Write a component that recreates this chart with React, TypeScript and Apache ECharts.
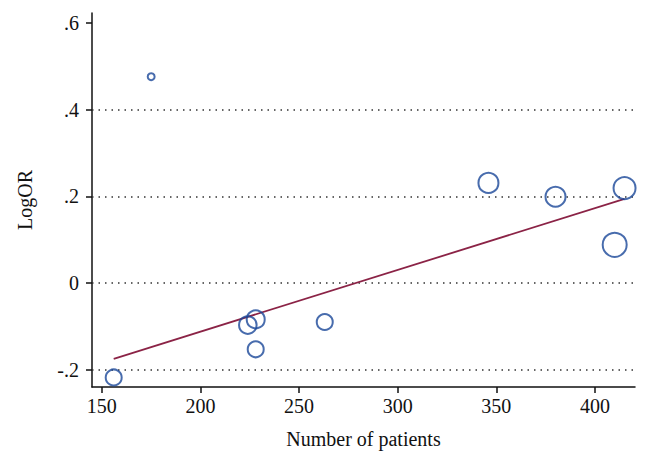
import React, { useEffect, useRef } from "react";
import * as echarts from "echarts";

const patients = [156, 175, 224, 228, 228, 263, 346, 380, 410, 415];
const logOR = [-0.218, 0.476, -0.097, -0.084, -0.153, -0.09, 0.231, 0.199, 0.088, 0.219];
const weights = [64, 12, 77, 81, 64, 64, 100, 100, 144, 121];
const fitX = [156, 415];
const fitY = [-0.175, 0.194];
const xTicks = [150, 200, 250, 300, 350, 400];
const yTicks = [-0.2, 0, 0.2, 0.4, 0.6];
const gridLines = [-0.2, 0, 0.2, 0.4];

const FONT = "Liberation Serif";

function fmtY(v: number): string {
  if (Math.abs(v) < 1e-9) return "0";
  const s = Math.abs(v).toFixed(1).replace(/^0/, "");
  return (v < 0 ? "-" : "") + s;
}

export default function App() {
  const ref = useRef<HTMLDivElement>(null);
  useEffect(() => {
    if (!ref.current) return;
    const chart = echarts.init(ref.current, null, { renderer: "svg" });
    chart.setOption({
      animation: false,
      backgroundColor: "#ffffff",
      grid: { left: 92, right: 15, top: 13, bottom: 80, containLabel: false },
      xAxis: {
        type: "value",
        min: 145,
        max: 420.3,
        name: "Number of patients",
        nameLocation: "middle",
        nameGap: 42,
        nameTextStyle: { fontFamily: FONT, fontSize: 20, color: "#111" },
        axisLine: { show: true, onZero: false, lineStyle: { color: "#111", width: 1.5 } },
        axisTick: { show: true, length: 6, lineStyle: { color: "#111", width: 1.5 }, customValues: xTicks },
        axisLabel: { fontFamily: FONT, fontSize: 20, color: "#111", margin: 9, customValues: xTicks, formatter: (v: number) => String(v) },
        splitLine: { show: false },
      },
      yAxis: {
        type: "value",
        min: -0.24,
        max: 0.623,
        name: "LogOR",
        nameLocation: "middle",
        nameGap: 57,
        nameTextStyle: { fontFamily: FONT, fontSize: 20, color: "#111" },
        axisLine: { show: true, onZero: false, lineStyle: { color: "#111", width: 1.5 } },
        axisTick: { show: true, length: 6, lineStyle: { color: "#111", width: 1.5 }, customValues: yTicks },
        axisLabel: { fontFamily: FONT, fontSize: 20, color: "#111", margin: 13, customValues: yTicks, formatter: (v: number) => fmtY(v) },
        splitLine: { show: false },
      },
      series: [
        {
          type: "line",
          data: fitX.map((x, i) => [x, fitY[i]]),
          symbol: "none",
          lineStyle: { color: "#8b2346", width: 1.8 },
          z: 3,
          markLine: {
            silent: true,
            symbol: "none",
            label: { show: false },
            lineStyle: { color: "#333", width: 1.5, type: [1.5, 5] },
            data: gridLines.map((y) => ({ yAxis: y })),
            z: 1,
          },
        },
        {
          type: "scatter",
          data: patients.map((x, i) => [x, logOR[i], weights[i]]),
          symbol: "circle",
          symbolSize: (d: number[]) => 2 * Math.sqrt(d[2]),
          itemStyle: { color: "rgba(0,0,0,0)", borderColor: "#1a4799", borderWidth: 2 },
          z: 4,
        },
      ],
    });
    return () => chart.dispose();
  }, []);
  return <div ref={ref} style={{ width: 650, height: 467, margin: -8 }} />;
}
